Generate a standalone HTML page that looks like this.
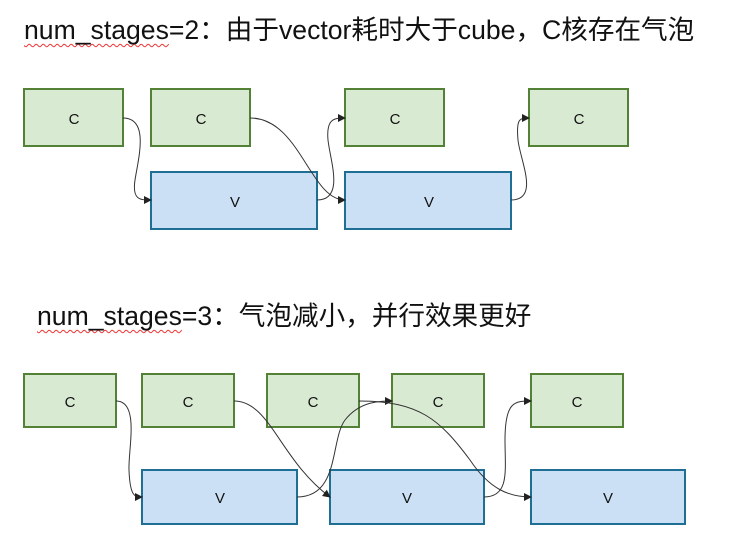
<!DOCTYPE html>
<html><head><meta charset="utf-8"><style>
body{margin:0;width:733px;height:556px;background:#fff;overflow:hidden;position:relative;font-family:"Liberation Sans","Noto Sans CJK SC",sans-serif}
.t{position:absolute;font-size:26.6px;color:#111;white-space:nowrap;line-height:32px}
.w{text-decoration:underline wavy #e33;text-decoration-thickness:1px;text-underline-offset:4px;text-decoration-skip-ink:none}
</style></head><body>
<div class="t" style="left:24px;top:14px"><span class="w">num_stages</span>=2：由于vector耗时大于cube，C核存在气泡</div>
<div class="t" style="left:37px;top:300px"><span class="w">num_stages</span>=3：气泡减小，并行效果更好</div>
<svg width="733" height="556" style="position:absolute;left:0;top:0" font-family="Liberation Sans, sans-serif" font-size="15">
<defs><marker id="a" markerWidth="8" markerHeight="8" refX="7" refY="4" orient="auto" markerUnits="userSpaceOnUse"><path d="M0,0 L8,4 L0,8z" fill="#222"/></marker></defs>
<g stroke="#538135" stroke-width="2" fill="#d9ead3">
<rect x="24" y="89" width="99" height="57"/><rect x="151" y="89" width="99" height="57"/><rect x="345" y="89" width="99" height="57"/><rect x="529" y="89" width="99" height="57"/>
<rect x="24" y="374" width="92" height="53"/><rect x="142" y="374" width="92" height="53"/><rect x="267" y="374" width="92" height="53"/><rect x="392" y="374" width="92" height="53"/><rect x="531" y="374" width="92" height="53"/>
</g>
<g stroke="#1f6f94" stroke-width="2" fill="#cce0f5">
<rect x="151" y="172" width="166" height="57"/><rect x="345" y="172" width="166" height="57"/>
<rect x="142" y="470" width="155" height="54"/><rect x="330" y="470" width="154" height="54"/><rect x="531" y="470" width="154" height="54"/>
</g>
<g fill="#111" text-anchor="middle">
<text x="74" y="124">C</text><text x="201" y="124">C</text><text x="395" y="124">C</text><text x="579" y="124">C</text>
<text x="235" y="207">V</text><text x="429" y="207">V</text>
<text x="70" y="407">C</text><text x="188" y="407">C</text><text x="313" y="407">C</text><text x="438" y="407">C</text><text x="577" y="407">C</text>
<text x="220" y="503">V</text><text x="407" y="503">V</text><text x="608" y="503">V</text>
</g>
<g stroke="#333" stroke-width="1" fill="none" marker-end="url(#a)">
<path d="M123,118 C150,118 138,160 135,180 C132,200 140,200 151,200"/>
<path d="M250,118 C300,118 310,200 345,200"/>
<path d="M317,200 C345,200 330,160 328,140 C326,118 335,118 345,118"/>
<path d="M511,200 C540,200 520,160 518,140 C516,118 520,118 529,118"/>
<path d="M116,401 C140,401 128,450 129,470 C130,497 135,497 142,497"/>
<path d="M234,401 C270,401 280,460 330,497"/>
<path d="M297,497 C340,497 330,440 345,420 C360,401 380,401 392,401"/>
<path d="M359,401 C420,401 440,420 470,460 C490,490 510,497 531,497"/>
<path d="M484,497 C510,497 505,470 505,440 C505,401 515,401 531,401"/>
</g>
</svg>
</body></html>
